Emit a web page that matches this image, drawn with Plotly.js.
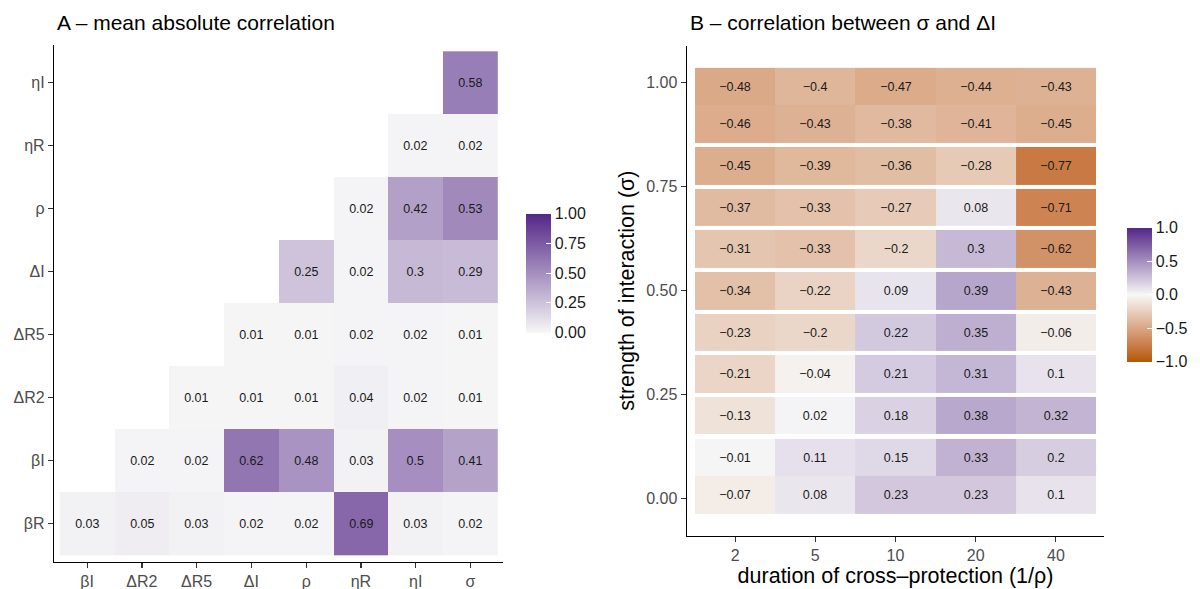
<!DOCTYPE html>
<html>
<head>
<meta charset="utf-8">
<script src="https://cdn.plot.ly/plotly-3.0.1.min.js"></script>
<style>
  html, body { margin: 0; padding: 0; background: #ffffff; }
  #chart { width: 1200px; height: 589px; }
</style>
</head>
<body>
<div id="chart"></div>
<script>
// ---- Panel A: mean absolute correlation between parameters ----
const paramsX = ['βI', 'ΔR2', 'ΔR5', 'ΔI', 'ρ', 'ηR', 'ηI', 'σ'];
const paramsY = ['βR', 'βI', 'ΔR2', 'ΔR5', 'ΔI', 'ρ', 'ηR', 'ηI'];
// one row per paramsY entry (bottom to top), one column per paramsX entry
const corrBetaR  = [0.03, 0.05, 0.03, 0.02, 0.02, 0.69, 0.03, 0.02];
const corrBetaI  = [null, 0.02, 0.02, 0.62, 0.48, 0.03, 0.5, 0.41];
const corrDR2    = [null, null, 0.01, 0.01, 0.01, 0.04, 0.02, 0.01];
const corrDR5    = [null, null, null, 0.01, 0.01, 0.02, 0.02, 0.01];
const corrDI     = [null, null, null, null, 0.25, 0.02, 0.3, 0.29];
const corrRho    = [null, null, null, null, null, 0.02, 0.42, 0.53];
const corrEtaR   = [null, null, null, null, null, null, 0.02, 0.02];
const corrEtaI   = [null, null, null, null, null, null, null, 0.58];

// ---- Panel B: correlation between sigma and delta I ----
const durations = ['2', '5', '10', '20', '40'];
const sigmaVals = [0.01, 0.1, 0.2, 0.3, 0.4, 0.5, 0.6, 0.7, 0.8, 0.9, 0.99];
const corrSigma001 = [-0.07, 0.08, 0.23, 0.23, 0.1];
const corrSigma010 = [-0.01, 0.11, 0.15, 0.33, 0.2];
const corrSigma020 = [-0.13, 0.02, 0.18, 0.38, 0.32];
const corrSigma030 = [-0.21, -0.04, 0.21, 0.31, 0.1];
const corrSigma040 = [-0.23, -0.2, 0.22, 0.35, -0.06];
const corrSigma050 = [-0.34, -0.22, 0.09, 0.39, -0.43];
const corrSigma060 = [-0.31, -0.33, -0.2, 0.3, -0.62];
const corrSigma070 = [-0.37, -0.33, -0.27, 0.08, -0.71];
const corrSigma080 = [-0.45, -0.39, -0.36, -0.28, -0.77];
const corrSigma090 = [-0.46, -0.43, -0.38, -0.41, -0.45];
const corrSigma099 = [-0.48, -0.4, -0.47, -0.44, -0.43];

const FONT = 'Liberation Sans, Arial, Helvetica, sans-serif';
const fmt = v => (v === null ? '' : String(v).replace('-', '\u2212'));

// Panel A matrix
const zA = [corrBetaR, corrBetaI, corrDR2, corrDR5, corrDI, corrRho, corrEtaR, corrEtaI];
const textA = zA.map(r => r.map(fmt));

// Panel B: tiles as tall as the smallest step between sigma values,
// with empty rows filling whatever space is left between neighbours
const rowsB = [corrSigma001, corrSigma010, corrSigma020, corrSigma030, corrSigma040,
               corrSigma050, corrSigma060, corrSigma070, corrSigma080, corrSigma090, corrSigma099];
let step = Infinity;
for (let i = 1; i < sigmaVals.length; i++) step = Math.min(step, sigmaVals[i] - sigmaVals[i - 1]);
const edgesB = [sigmaVals[0] - step / 2];
const zB = [];
const textB = [];
const emptyRow = durations.map(() => null);
for (let i = 0; i < sigmaVals.length; i++) {
  zB.push(rowsB[i]);
  textB.push(rowsB[i].map(fmt));
  const top = sigmaVals[i] + step / 2;
  edgesB.push(top);
  if (i + 1 < sigmaVals.length) {
    const nextBottom = sigmaVals[i + 1] - step / 2;
    if (nextBottom - top > 1e-6) {
      zB.push(emptyRow);
      textB.push(emptyRow.map(() => ''));
      edgesB.push(nextBottom);
    }
  }
}

const purple = [[0, '#f7f7f7'], [1, '#542788']];
const divergent = [[0, '#b35806'], [0.115, '#c97a44'], [0.5, '#f7f7f7'], [1, '#542788']];

const traceA = {
  type: 'heatmap',
  x: paramsX.map((_, i) => i),
  y: paramsY.map((_, i) => i),
  z: zA,
  text: textA,
  texttemplate: '%{text}',
  textfont: { family: FONT, size: 12.5, color: '#1a1a1a' },
  colorscale: purple,
  zmin: 0, zmax: 1,
  xaxis: 'x', yaxis: 'y',
  hoverongaps: false,
  colorbar: {
    x: 526 / 1200, xanchor: 'left', xpad: 0,
    y: 1 - 273 / 589, yanchor: 'middle', ypad: 0,
    thickness: 25, thicknessmode: 'pixels',
    len: 119, lenmode: 'pixels',
    outlinewidth: 0,
    tickmode: 'array', tickvals: [0, 0.25, 0.5, 0.75, 1],
    ticktext: ['0.00', '0.25', '0.50', '0.75', '1.00'],
    ticks: 'inside', ticklen: 5, tickwidth: 1, tickcolor: '#ffffff',
    tickfont: { family: FONT, size: 16, color: '#1a1a1a' }
  }
};

const traceB = {
  type: 'heatmap',
  x: durations.map((_, i) => i),
  y: edgesB,
  z: zB,
  text: textB,
  texttemplate: '%{text}',
  textfont: { family: FONT, size: 12.5, color: '#1a1a1a' },
  colorscale: divergent,
  zmin: -1, zmax: 1,
  xaxis: 'x2', yaxis: 'y2',
  hoverongaps: false,
  colorbar: {
    x: 1127 / 1200, xanchor: 'left', xpad: 0,
    y: 1 - 294.7 / 589, yanchor: 'middle', ypad: 0,
    thickness: 25, thicknessmode: 'pixels',
    len: 134, lenmode: 'pixels',
    outlinewidth: 0,
    tickmode: 'array', tickvals: [-1, -0.5, 0, 0.5, 1],
    ticktext: ['\u22121.0', '\u22120.5', '0.0', '0.5', '1.0'],
    ticks: 'inside', ticklen: 5, tickwidth: 1, tickcolor: '#ffffff',
    tickfont: { family: FONT, size: 16, color: '#1a1a1a' }
  }
};

const axisCommon = {
  showgrid: false, zeroline: false,
  showline: true, linecolor: '#000000', linewidth: 1.5,
  ticks: 'outside', ticklen: 5, tickwidth: 1.2, tickcolor: '#333333',
  tickfont: { family: FONT, size: 16, color: '#4d4d4d' },
  fixedrange: true
};

const layout = {
  width: 1200, height: 589,
  margin: { l: 0, r: 0, t: 0, b: 0 },
  paper_bgcolor: '#ffffff', plot_bgcolor: '#ffffff',
  font: { family: FONT },
  showlegend: false,
  xaxis: Object.assign({}, axisCommon, {
    domain: [54.3 / 1200, 503.3 / 1200], anchor: 'y',
    range: [-0.6, 7.6], tickmode: 'array',
    tickvals: paramsX.map((_, i) => i), ticktext: paramsX
  }),
  yaxis: Object.assign({}, axisCommon, {
    domain: [1 - 561.7 / 589, 1 - 45 / 589], anchor: 'x',
    range: [-0.6, 7.6], tickmode: 'array',
    tickvals: paramsY.map((_, i) => i), ticktext: paramsY
  }),
  xaxis2: Object.assign({}, axisCommon, {
    domain: [687 / 1200, 1104 / 1200], anchor: 'y2',
    range: [-0.6, 4.6], tickmode: 'array',
    tickvals: durations.map((_, i) => i), ticktext: durations,
    title: { text: 'duration of cross\u2013protection (1/\u03c1)', standoff: 3,
             font: { family: FONT, size: 21.5, color: '#000000' } }
  }),
  yaxis2: Object.assign({}, axisCommon, {
    domain: [1 - 535.7 / 589, 1 - 45.6 / 589], anchor: 'x2',
    range: [-0.0885, 1.0885], tickmode: 'array',
    tickvals: [0, 0.25, 0.5, 0.75, 1],
    ticktext: ['0.00', '0.25', '0.50', '0.75', '1.00'],
    title: { text: 'strength of interaction (\u03c3)', standoff: 5,
             font: { family: FONT, size: 21.5, color: '#000000' } }
  }),
  annotations: [
    { text: 'A \u2013 mean absolute correlation', xref: 'paper', yref: 'paper',
      x: 55 / 1200, y: 1 - 22 / 589, xanchor: 'left', yanchor: 'middle',
      showarrow: false, font: { family: FONT, size: 21, color: '#000000' } },
    { text: 'B \u2013 correlation between \u03c3 and \u0394I', xref: 'paper', yref: 'paper',
      x: 688 / 1200, y: 1 - 22 / 589, xanchor: 'left', yanchor: 'middle',
      showarrow: false, font: { family: FONT, size: 21, color: '#000000' } }
  ]
};

Plotly.newPlot('chart', [traceA, traceB], layout, { displayModeBar: false, staticPlot: true });
</script>
</body>
</html>
